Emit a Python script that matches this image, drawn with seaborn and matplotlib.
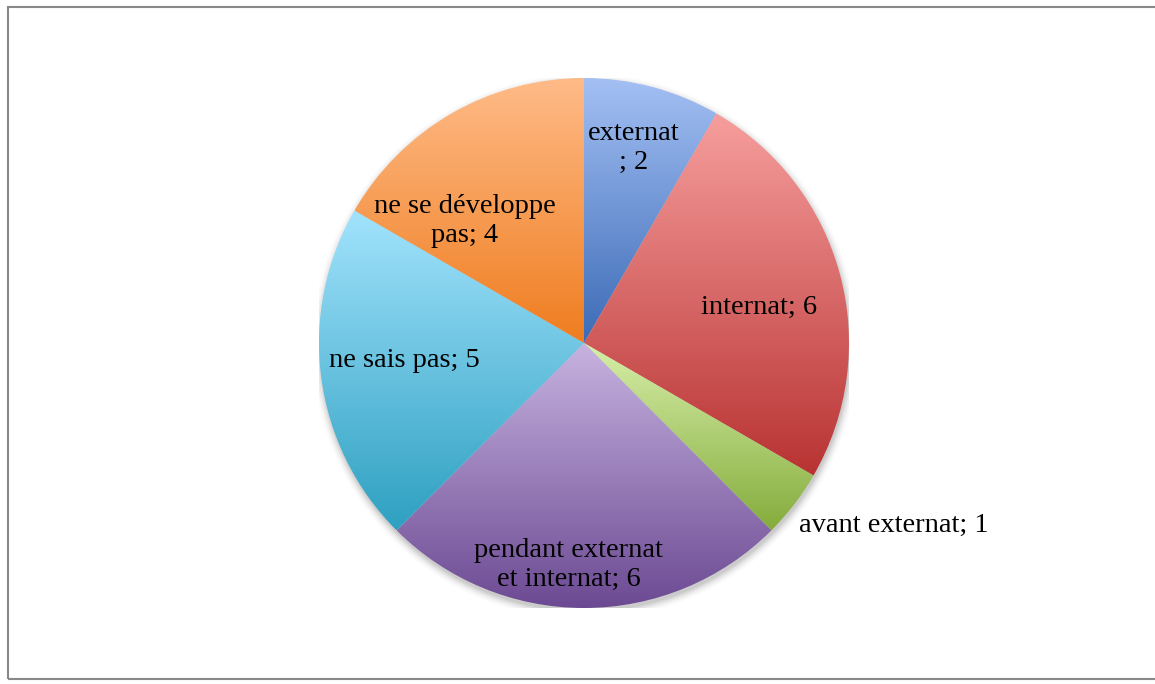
import numpy as np
import seaborn as sns
import matplotlib.pyplot as plt
from matplotlib.colors import LinearSegmentedColormap
from matplotlib.patches import Rectangle, Circle

# Data
labels = ["externat\n; 2", "internat; 6", "avant externat; 1",
          "pendant externat\net internat; 6", "ne sais pas; 5",
          "ne se développe\npas; 4"]
values = [2, 6, 1, 6, 5, 4]

# gradient colours per slice (top, bottom)
top_colors = ["#A4C0F4", "#F69E9D", "#D7EFA9", "#C7B3E0", "#A2E3FD", "#FFBB88"]
bottom_colors = ["#3C6BB6", "#B83332", "#85AC3C", "#6C4A93", "#2EA0C1", "#EF7D1F"]

# label placement: (radius, angle shift in degrees, horizontal alignment)
label_layout = [(0.76, 0.6, "center"), (0.674, -3.4, "center"), (1.064, -2.9, "left"),
                (0.84, -3.9, "center"), (0.683, -1.8, "center"), (0.644, 14.4, "center")]

sns.set_theme(style="white")
plt.rcParams['font.family'] = ['Liberation Serif', 'DejaVu Serif']

fig = plt.figure(figsize=(11.55, 6.84), dpi=100)
W, H = 1155, 684
cx, cy, R = 584, 684 - 343, 265
ax = fig.add_axes([(cx - R) / W, (cy - R) / H, 2 * R / W, 2 * R / H])
ax.set_xlim(-1, 1)
ax.set_ylim(-1, 1)
ax.set_aspect("equal")
ax.axis("off")

# soft shadow
for i, a in enumerate(np.linspace(0.06, 0.01, 6)):
    ax.add_patch(Circle((0.004, -0.014), 1.0 + 0.006 * i, color="black",
                        alpha=a, lw=0, zorder=0))

wedges, _ = ax.pie(values, startangle=90, counterclock=False, radius=1.0,
                   wedgeprops=dict(linewidth=0))

grad = np.linspace(0, 1, 256).reshape(-1, 1)
for w, c0, c1 in zip(wedges, top_colors, bottom_colors):
    w.set_facecolor("none")
    w.set_zorder(2)
    bb = w.get_path().get_extents(w.get_patch_transform())
    cmap = LinearSegmentedColormap.from_list("g", [c0, c1])
    im = ax.imshow(grad, cmap=cmap, aspect="auto", origin="upper",
                   extent=[bb.x0, bb.x1, bb.y0, bb.y1], zorder=1,
                   interpolation="bilinear")
    im.set_clip_path(w)

ax.set_xlim(-1, 1)
ax.set_ylim(-1, 1)

for w, lab, (r, shift, ha) in zip(wedges, labels, label_layout):
    ang = np.deg2rad((w.theta1 + w.theta2) / 2 + shift)
    x, y = r * np.cos(ang), r * np.sin(ang)
    ax.text(x, y, lab, ha=ha, va="center", fontsize=20.5, color="black",
            linespacing=1.17, multialignment="center", zorder=3)

# chart frame (right edge falls outside the image)
fig.patches.append(Rectangle((7.5 / W, 5.5 / H), (1160 - 7.5) / W, (677 - 5.5) / H,
                             transform=fig.transFigure, fill=False,
                             edgecolor="#888888", linewidth=1.5))

fig.savefig("out.png", dpi=100, facecolor="white")
